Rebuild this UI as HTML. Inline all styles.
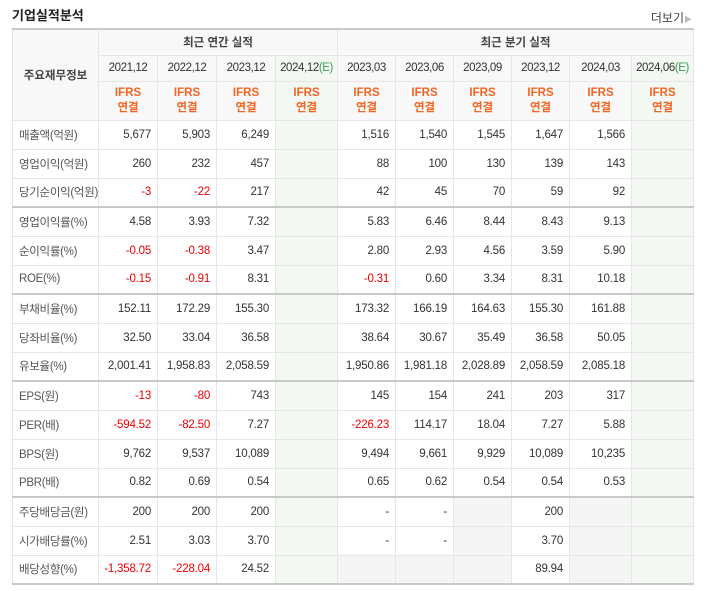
<!DOCTYPE html>
<html><head><meta charset="utf-8">
<style>
body{margin:0;background:#fff;width:707px;height:591px;overflow:hidden;font-family:"Liberation Sans","Noto Sans CJK KR",sans-serif;color:#333;}
#title{position:absolute;left:12px;top:5px;font-size:13px;font-weight:bold;color:#222;}
#more{position:absolute;right:15px;top:9px;font-size:12px;color:#444;}
#more span{color:#bbb;font-size:8px;}
table{position:absolute;left:12px;top:28px;border-collapse:collapse;table-layout:fixed;font-size:11.5px;}
td,th{border:1px solid #e6e6e6;padding:0;font-weight:normal;white-space:nowrap;overflow:hidden;}
tr.top td,tr.top th{border-top:2px solid #c9c9c9;}
thead th{background:#f8f8f8;color:#333;}
th.grp{font-weight:bold;color:#444;}
.per{font-size:11.5px;letter-spacing:-0.4px;}
.ifrs{color:#f26522;font-weight:bold;line-height:15px;}
.est{background:#f3f8f3 !important;}
.e{color:#3a9a5a;}
td.lbl{text-align:left;padding-left:6px;color:#555;letter-spacing:-0.3px;}
td.num{text-align:right;padding-right:6px;letter-spacing:-0.2px;}
td.neg{color:#e00;}
td.gray{background:#f5f5f5;}
.bl{border-left:1px solid #c9c9c9 !important;}
tbody tr{height:29px;}
tbody tr.last td{border-bottom:2px solid #c9c9c9;}
</style></head><body>
<div id="title">기업실적분석</div>
<div id="more">더보기<span>▶</span></div>
<table id="tbl">
<colgroup><col style="width:85px"><col style="width:59px"><col style="width:59px"><col style="width:59px"><col style="width:62px"><col style="width:58px"><col style="width:58px"><col style="width:58px"><col style="width:58px"><col style="width:62px"><col style="width:62px"></colgroup>
<thead>
<tr class="top" style="height:26px"><th rowspan="3" class="grp" style="color:#444">주요재무정보</th><th colspan="4" class="grp bl">최근 연간 실적</th><th colspan="6" class="grp bl">최근 분기 실적</th></tr>
<tr id="periods" style="height:26px"></tr>
<tr id="ifrsrow" style="height:39px"></tr>
</thead>
<tbody id="body"></tbody>
</table>
<script>
const periods=["2021.12","2022.12","2023.12","2024.12","2023.03","2023.06","2023.09","2023.12","2024.03","2024.06"];
const estimated=[false,false,false,true,false,false,false,false,false,true];
const labels=["매출액(억원)","영업이익(억원)","당기순이익(억원)","영업이익률(%)","순이익률(%)","ROE(%)","부채비율(%)","당좌비율(%)","유보율(%)","EPS(원)","PER(배)","BPS(원)","PBR(배)","주당배당금(원)","시가배당률(%)","배당성향(%)"];
const values=[
["5,677","5,903","6,249","","1,516","1,540","1,545","1,647","1,566",""],
["260","232","457","","88","100","130","139","143",""],
["-3","-22","217","","42","45","70","59","92",""],
["4.58","3.93","7.32","","5.83","6.46","8.44","8.43","9.13",""],
["-0.05","-0.38","3.47","","2.80","2.93","4.56","3.59","5.90",""],
["-0.15","-0.91","8.31","","-0.31","0.60","3.34","8.31","10.18",""],
["152.11","172.29","155.30","","173.32","166.19","164.63","155.30","161.88",""],
["32.50","33.04","36.58","","38.64","30.67","35.49","36.58","50.05",""],
["2,001.41","1,958.83","2,058.59","","1,950.86","1,981.18","2,028.89","2,058.59","2,085.18",""],
["-13","-80","743","","145","154","241","203","317",""],
["-594.52","-82.50","7.27","","-226.23","114.17","18.04","7.27","5.88",""],
["9,762","9,537","10,089","","9,494","9,661","9,929","10,089","10,235",""],
["0.82","0.69","0.54","","0.65","0.62","0.54","0.54","0.53",""],
["200","200","200","","-","-",null,"200",null,""],
["2.51","3.03","3.70","","-","-",null,"3.70",null,""],
["-1,358.72","-228.04","24.52","",null,null,null,"89.94",null,""]];
const groupStarts=[3,6,9,13];
const pr=document.getElementById('periods'),ir=document.getElementById('ifrsrow');
periods.forEach((p,i)=>{
 const th=document.createElement('th');
 
 
 th.innerHTML=p.replace('.',',')+(estimated[i]?'<span class="e">(E)</span>':'');
 th.className='per';
 if(estimated[i])th.classList.add('est');
 if(i===0||i===4)th.classList.add('bl');
 pr.appendChild(th);
 const t2=document.createElement('th');
 
 
 t2.innerHTML='<div class="ifrs">IFRS<br>연결</div>';
 if(estimated[i])t2.className='est';
 if(i===0||i===4)t2.classList.add('bl');
 ir.appendChild(t2);
});
const body=document.getElementById('body');
labels.forEach((l,r)=>{
 const tr=document.createElement('tr');
 
 
 if(groupStarts.includes(r))tr.className='top';
 if(r===labels.length-1)tr.classList.add('last');
 const td=document.createElement('td');
 td.className='lbl';
 td.textContent=l;
 
 
 tr.appendChild(td);
 values[r].forEach((v,i)=>{
  const c=document.createElement('td');
  
  
  c.className='num';
  if(i===0||i===4)c.classList.add('bl');
  if(estimated[i])c.classList.add('est');
  if(v===null){c.classList.add('gray');}
  else{c.textContent=v;if(v.startsWith('-')&&v.length>1)c.classList.add('neg');}
  tr.appendChild(c);
 });
 body.appendChild(tr);
});
</script>
</body></html>
